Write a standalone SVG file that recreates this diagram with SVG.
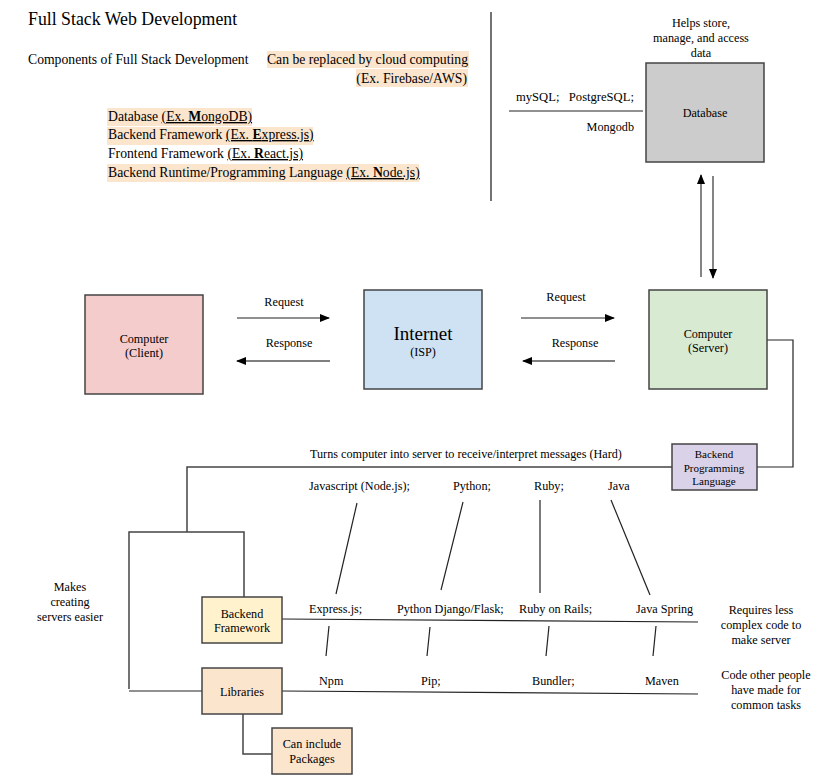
<svg xmlns="http://www.w3.org/2000/svg" width="835" height="776" viewBox="0 0 835 776" font-family="'Liberation Serif', 'Times New Roman', serif">
<style>
text { font-family: "Liberation Serif", "Times New Roman", serif; fill: #000; }
.s11 { font-size: 12.2px; }
.s12 { font-size: 12.2px; }
.s13 { font-size: 13.7px; }
.c { text-anchor: middle; }
.box { stroke: #444; stroke-width: 1.5; }
.ln { stroke: #444; stroke-width: 1.5; fill: none; }
.thin { stroke: #222; stroke-width: 1.2; fill: none; }
.hl { fill: #fce5cd; }
</style>
<defs>
<marker id="ah" markerWidth="10" markerHeight="8" refX="9" refY="4" orient="auto" markerUnits="userSpaceOnUse">
<path d="M0,0 L10,4 L0,8 Z" fill="#000"/>
</marker>
</defs>

<g id="header">
<text x="28" y="25" style="font-size:17.8px">Full Stack Web Development</text>
<text x="28" y="64" class="s13">Components of Full Stack Development</text>
<rect class="hl" x="267" y="51" width="202" height="17"/>
<rect class="hl" x="356" y="69" width="112" height="18"/>
<text x="468" y="64" class="s13" text-anchor="end">Can be replaced by cloud computing</text>
<text x="467" y="83" class="s13" text-anchor="end">(Ex. Firebase/AWS)</text>
<rect class="hl" x="107" y="108" width="145" height="18"/>
<rect class="hl" x="107" y="127" width="206" height="18"/>
<rect class="hl" x="107" y="164" width="312" height="18"/>
<text x="108" y="121" class="s13">Database <tspan text-decoration="underline">(Ex. <tspan font-weight="bold">M</tspan>ongoDB)</tspan></text>
<text x="108" y="139" class="s13">Backend Framework <tspan text-decoration="underline">(Ex. <tspan font-weight="bold">E</tspan>xpress.js)</tspan></text>
<text x="108" y="158" class="s13">Frontend Framework <tspan text-decoration="underline">(Ex. <tspan font-weight="bold">R</tspan>eact.js)</tspan></text>
<text x="108" y="177" class="s13">Backend Runtime/Programming Language <tspan text-decoration="underline">(Ex. <tspan font-weight="bold">N</tspan>ode.js)</tspan></text>
<line x1="491" y1="12" x2="491" y2="201" stroke="#444" stroke-width="1.5"/>
</g>

<g id="connectors">
<line x1="701" y1="277" x2="701" y2="175" stroke="#333" stroke-width="1.2" marker-end="url(#ah)"/>
<line x1="713" y1="176" x2="713" y2="278" stroke="#333" stroke-width="1.2" marker-end="url(#ah)"/>
<line x1="509" y1="111" x2="643" y2="111" stroke="#222" stroke-width="1.2"/>
<line x1="237" y1="318" x2="329" y2="318" stroke="#222" stroke-width="1.2" marker-end="url(#ah)"/>
<line x1="330" y1="361" x2="237" y2="361" stroke="#555" stroke-width="1.5" marker-end="url(#ah)"/>
<line x1="521" y1="318" x2="614" y2="318" stroke="#222" stroke-width="1.2" marker-end="url(#ah)"/>
<line x1="615" y1="361" x2="523" y2="361" stroke="#555" stroke-width="1.5" marker-end="url(#ah)"/>
<polyline class="thin" points="767,340 793,340 793,467 757,467"/>
<polyline class="ln" points="672,467 187,467 187,532"/>
<polyline class="ln" points="129,689 129,532 244,532 244,597"/>
<line class="thin" x1="129" y1="691" x2="202" y2="691"/>
<polyline class="ln" points="243,714 243,754 272,754"/>
<line class="thin" x1="282" y1="619" x2="698" y2="622"/>
<line class="thin" x1="282" y1="691" x2="698" y2="694"/>
<line class="thin" x1="357" y1="503" x2="336" y2="594"/>
<line class="thin" x1="463" y1="502" x2="441" y2="590"/>
<line class="thin" x1="540" y1="500" x2="540" y2="593"/>
<line class="thin" x1="611" y1="500" x2="650" y2="595"/>
<line class="thin" x1="329" y1="626" x2="326" y2="656"/>
<line class="thin" x1="430" y1="627" x2="427" y2="656"/>
<line class="thin" x1="549" y1="626" x2="546" y2="656"/>
<line class="thin" x1="656" y1="626" x2="653" y2="656"/>
</g>

<g id="database">
<rect class="box" x="646" y="63" width="118" height="99" fill="#cccccc"/>
<text x="705" y="117" class="s12 c">Database</text>
</g>
<g id="db-labels">
<text x="701" y="27" class="s12 c">Helps store,</text>
<text x="701" y="42" class="s12 c">manage, and access</text>
<text x="701" y="57" class="s12 c">data</text>
<text x="516" y="101" class="s12" xml:space="preserve" style="font-size:12.6px">mySQL;   PostgreSQL;</text>
<text x="634" y="131" class="s12" text-anchor="end">Mongodb</text>
</g>

<g id="client">
<rect class="box" x="85" y="295" width="118" height="99" fill="#f4cccc"/>
<text x="144" y="343" class="s11 c">Computer</text>
<text x="144" y="357" class="s11 c">(Client)</text>
</g>
<g id="internet">
<rect class="box" x="364" y="290" width="118" height="99" fill="#cfe2f3"/>
<text x="423" y="340" class="c" style="font-size:19px">Internet</text>
<text x="423" y="356" class="s11 c">(ISP)</text>
</g>
<g id="server">
<rect class="box" x="649" y="290" width="118" height="99" fill="#d9ead3"/>
<text x="708" y="338" class="s11 c">Computer</text>
<text x="708" y="352" class="s11 c">(Server)</text>
</g>
<g id="arrow-labels">
<text x="284" y="306" class="s11 c">Request</text>
<text x="289" y="347" class="s11 c">Response</text>
<text x="566" y="301" class="s11 c">Request</text>
<text x="575" y="347" class="s11 c">Response</text>
</g>

<g id="backend-language">
<rect class="box" x="672" y="444" width="85" height="46" fill="#d9d2e9"/>
<text x="714" y="458" class="c" style="font-size:11px">Backend</text>
<text x="714" y="472" class="c" style="font-size:11px">Programming</text>
<text x="714" y="485" class="c" style="font-size:11px">Language</text>
</g>

<g id="backend-framework">
<rect class="box" x="202" y="597" width="80" height="46" fill="#fff2cc"/>
<text x="242" y="618" class="s12 c">Backend</text>
<text x="242" y="632" class="s12 c">Framework</text>
</g>
<g id="libraries">
<rect class="box" x="202" y="668" width="80" height="46" fill="#fce5cd"/>
<text x="242" y="696" class="s12 c">Libraries</text>
</g>
<g id="packages">
<rect class="box" x="272" y="728" width="80" height="46" fill="#fce5cd"/>
<text x="312" y="748" class="s12 c">Can include</text>
<text x="312" y="763" class="s12 c">Packages</text>
</g>

<g id="labels">
<text x="310" y="458" class="s11">Turns computer into server to receive/interpret messages (Hard)</text>
<text x="309" y="490" class="s11">Javascript (Node.js);</text>
<text x="453" y="490" class="s11">Python;</text>
<text x="534" y="490" class="s11">Ruby;</text>
<text x="608" y="490" class="s11">Java</text>
<text x="309" y="613" class="s12">Express.js;</text>
<text x="397" y="613" class="s12">Python Django/Flask;</text>
<text x="519" y="613" class="s12">Ruby on Rails;</text>
<text x="636" y="613" class="s12">Java Spring</text>
<text x="319" y="685" class="s12">Npm</text>
<text x="421" y="685" class="s12">Pip;</text>
<text x="532" y="685" class="s12">Bundler;</text>
<text x="645" y="685" class="s12">Maven</text>
<text x="761" y="614" class="s12 c">Requires less</text>
<text x="761" y="629" class="s12 c">complex code to</text>
<text x="761" y="644" class="s12 c">make server</text>
<text x="766" y="679" class="s12 c">Code other people</text>
<text x="766" y="694" class="s12 c">have made for</text>
<text x="766" y="709" class="s12 c">common tasks</text>
<text x="70" y="591" class="s12 c">Makes</text>
<text x="70" y="606" class="s12 c">creating</text>
<text x="70" y="621" class="s12 c">servers easier</text>
</g>
</svg>
